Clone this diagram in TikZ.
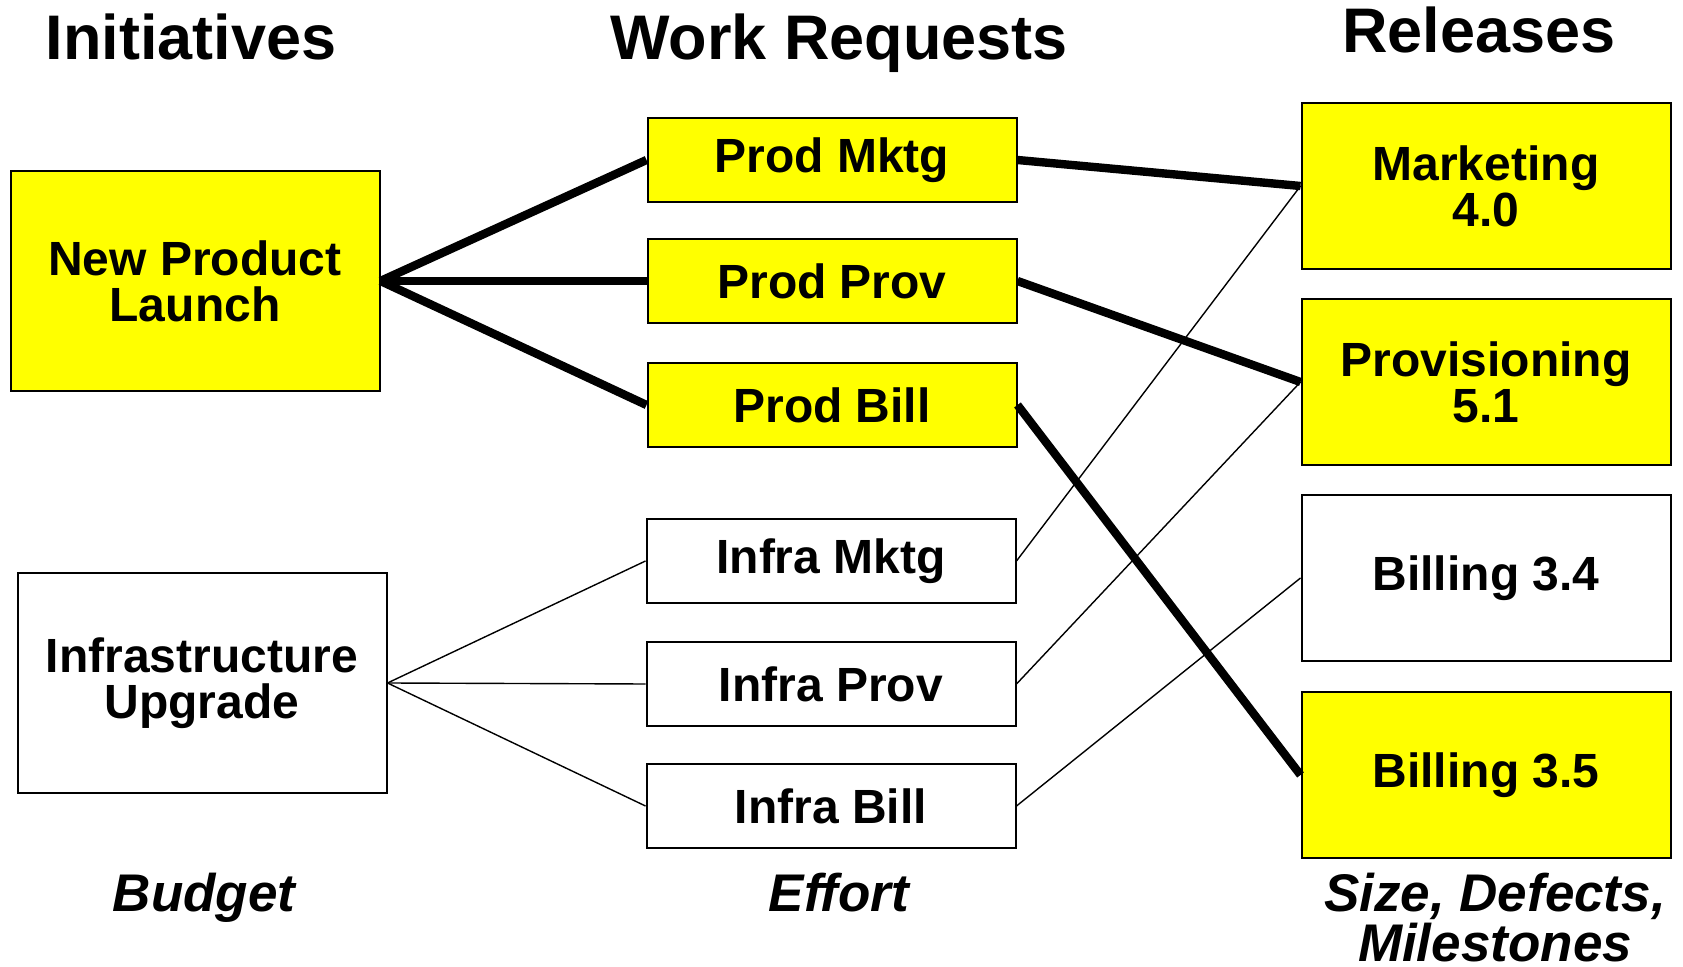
\documentclass[tikz,border=0pt]{standalone}
\usepackage{fontspec}
\setmainfont{Liberation Sans}
\usetikzlibrary{positioning}

\definecolor{hotyellow}{RGB}{255,255,0}

\begin{document}
\begin{tikzpicture}[
    x=0.5pt, y=-0.5pt,
    box/.style={rectangle, draw, line width=1pt, minimum width=184.5pt, inner sep=0pt, align=center, font=\fontsize{24}{23}\selectfont\bfseries},
    initbox/.style={box, minimum height=110pt},
    reqbox/.style={box, minimum height=42pt},
    relbox/.style={box, minimum height=83pt},
    hot/.style={fill=hotyellow},
    heading/.style={anchor=base, font=\fontsize{31.5}{36}\selectfont\bfseries},
    measure/.style={anchor=base, align=center, font=\fontsize{26.5}{25}\selectfont\bfseries\itshape},
    heavy/.style={line width=4.2pt},
    light/.style={line width=0.7pt}
]
    \useasboundingbox (0,0) rectangle (1683,967);

    % --- Column Headings ---
    \node[heading] (hinit) at (191,60) {Initiatives};
    \node[heading] (hreq) at (839,60) {Work Requests};
    \node[heading] (hrel) at (1479,53) {Releases};

    % --- Initiatives ---
    \node[initbox, hot] (npl) at (195,281) {New Product\\Launch};
    \node[initbox] (infra) at (202,683) {Infrastructure\\Upgrade};

    % --- Work Requests ---
    \node[reqbox, hot] (pmktg) at (832,160) {Prod Mktg};
    \node[reqbox, hot] (pprov) at (832,281) {Prod Prov};
    \node[reqbox, hot] (pbill) at (832,405) {Prod Bill};
    \node[reqbox] (imktg) at (831,561) {Infra Mktg};
    \node[reqbox] (iprov) at (831,684) {Infra Prov};
    \node[reqbox] (ibill) at (831,806) {Infra Bill};

    % --- Releases ---
    \node[relbox, hot] (mkt) at (1486,186) {Marketing\\4.0};
    \node[relbox, hot] (prov) at (1486,382) {Provisioning\\5.1};
    \node[relbox] (billa) at (1486,578) {Billing 3.4};
    \node[relbox, hot] (billb) at (1486,775) {Billing 3.5};

    % --- Measures (base = last line) ---
    \node[measure] (budget) at (204,912) {Budget};
    \node[measure] (effort) at (839,912) {Effort};
    \node[measure] (size) at (1495,962) {Size, Defects,\\Milestones};

    % --- Links ---
    \foreach \req in {pmktg, pprov, pbill} {
        \draw[heavy] (npl.east) -- (\req.west);
    }
    \foreach \req in {imktg, iprov, ibill} {
        \draw[light] (infra.east) -- (\req.west);
    }
    \draw[heavy] (pmktg.east) -- (mkt.west);
    \draw[heavy] (pprov.east) -- (prov.west);
    \draw[heavy] (pbill.east) -- (billb.west);
    \foreach \req/\rel in {imktg/mkt, iprov/prov, ibill/billa} {
        \draw[light] (\req.east) -- (\rel.west);
    }

\end{tikzpicture}
\end{document}
